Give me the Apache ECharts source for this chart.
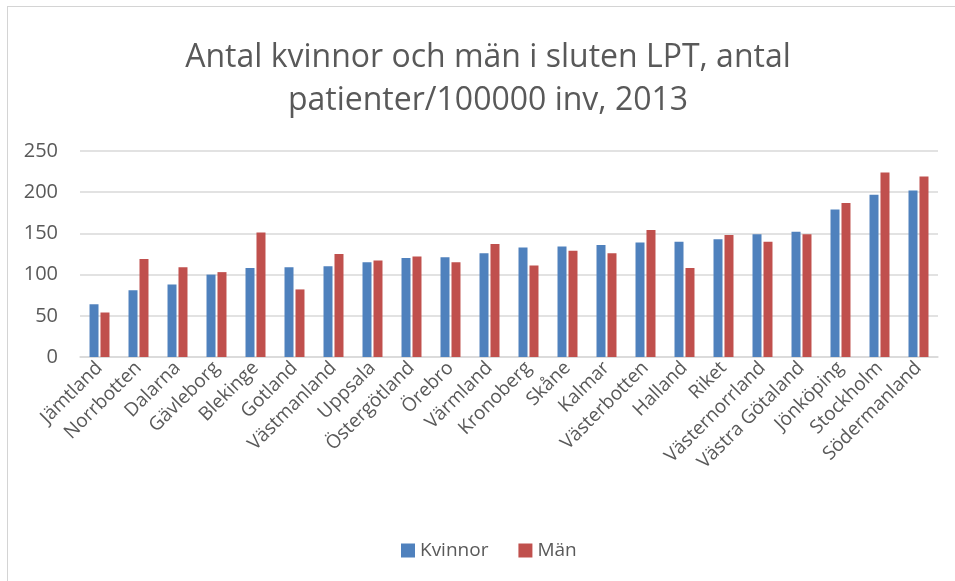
<!DOCTYPE html>
<html>
<head>
<meta charset="utf-8">
<script src="https://cdn.jsdelivr.net/npm/echarts@6/dist/echarts.min.js"></script>
<style>
  html, body { margin: 0; padding: 0; background: #fff; overflow: hidden; }
  #frame {
    position: absolute; left: 7px; top: 6px;
    width: 1200px; height: 1200px;
    border: 1px solid #d4d4d4;
  }
  #chart { position: absolute; left: 0; top: 0; width: 955px; height: 581px; }
</style>
</head>
<body>
<div id="frame"></div>
<div id="chart"></div>
<script>
// regions, sorted as in the source chart
const categories = [
  "Jämtland", "Norrbotten", "Dalarna", "Gävleborg", "Blekinge", "Gotland",
  "Västmanland", "Uppsala", "Östergötland", "Örebro", "Värmland", "Kronoberg",
  "Skåne", "Kalmar", "Västerbotten", "Halland", "Riket", "Västernorrland",
  "Västra Götaland", "Jönköping", "Stockholm", "Södermanland"
];
const kvinnor = [64, 81, 88, 100, 108, 109, 110, 115, 120, 121, 126, 133,
  134, 136, 139, 140, 143, 149, 152, 179, 197, 202];
const man = [54, 119, 109, 103, 151, 82, 125, 117, 122, 115, 137, 111,
  129, 126, 154, 108, 148, 140, 149, 187, 224, 219];
const yTicks = [0, 50, 100, 150, 200, 250];

const textColor = "#595959";
const font = "'Open Sans', 'DejaVu Sans', sans-serif";

const chart = echarts.init(document.getElementById("chart"));
chart.setOption({
  animation: false,
  textStyle: { fontFamily: font },
  title: {
    text: "Antal kvinnor och män i sluten LPT, antal\npatienter/100000 inv, 2013",
    left: 483,
    textAlign: "center",
    top: 31,
    textStyle: {
      fontFamily: font,
      fontSize: 32,
      fontWeight: "normal",
      color: textColor,
      lineHeight: 43
    }
  },
  legend: {
    left: 396,
    top: 536,
    itemWidth: 14,
    itemHeight: 14,
    itemGap: 30,
    icon: "rect",
    textStyle: { fontFamily: font, fontSize: 19, color: textColor },
    data: ["Kvinnor", "Män"]
  },
  grid: { left: 80, right: 17, top: 151, bottom: 224, containLabel: false },
  xAxis: {
    type: "category",
    data: categories,
    axisLine: { lineStyle: { color: "#d9d9d9", width: 1.5 } },
    axisTick: { show: false },
    axisLabel: {
      rotate: 45,
      interval: 0,
      fontSize: 19,
      color: textColor,
      margin: 8
    }
  },
  yAxis: {
    type: "value",
    min: yTicks[0],
    max: yTicks[yTicks.length - 1],
    interval: 50,
    axisLine: { show: false },
    axisTick: { show: false },
    splitLine: { lineStyle: { color: "#d9d9d9", width: 1.5 } },
    axisLabel: { fontSize: 20, color: textColor, margin: 22 }
  },
  series: [
    {
      name: "Kvinnor",
      type: "bar",
      data: kvinnor,
      barWidth: 9,
      barGap: "22%",
      itemStyle: { color: "#4F81BD" }
    },
    {
      name: "Män",
      type: "bar",
      data: man,
      barWidth: 9,
      barGap: "22%",
      itemStyle: { color: "#C0504D" }
    }
  ]
});
window.addEventListener("resize", () => chart.resize());
</script>
</body>
</html>
